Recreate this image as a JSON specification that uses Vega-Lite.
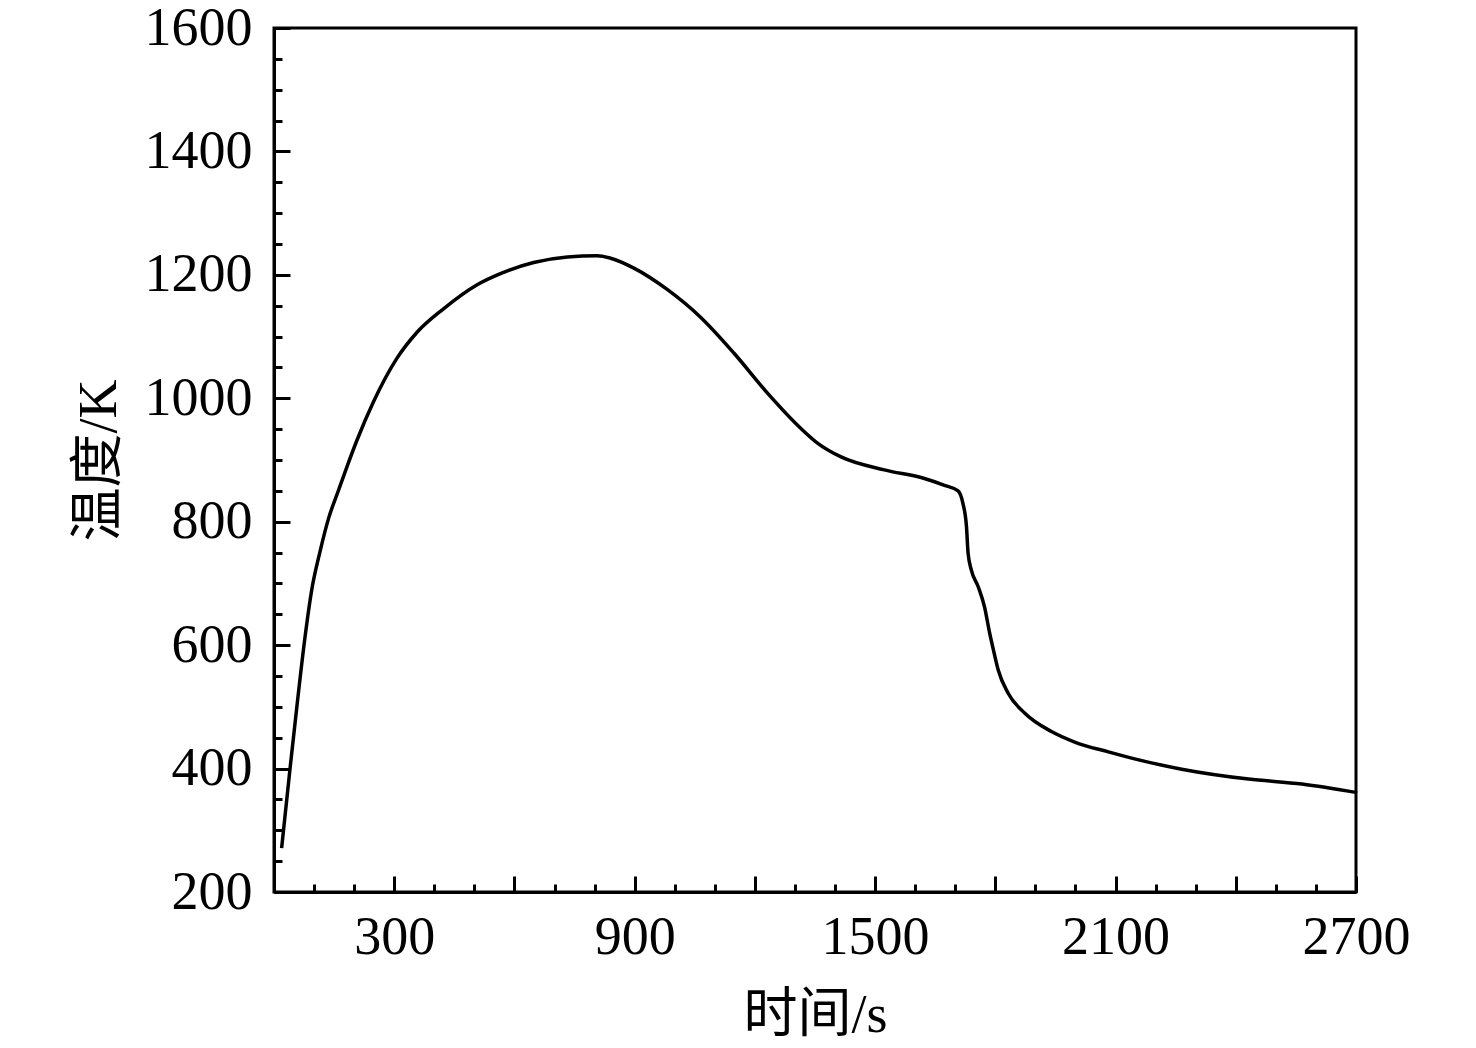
{
  "$schema": "https://vega.github.io/schema/vega-lite/v6.json",
  "width": 1082,
  "height": 864,
  "autosize": {"type": "none"},
  "padding": {"left": 274, "top": 28, "right": 120, "bottom": 156},
  "background": "white",
  "config": {
    "view": {"stroke": "black", "strokeWidth": 3},
    "axis": {
      "domainColor": "black",
      "domainWidth": 3,
      "tickColor": "black",
      "tickWidth": 3,
      "grid": false,
      "labelFont": "Liberation Serif",
      "labelFontSize": 54,
      "labelColor": "black",
      "labelFlush": false,
      "labelOverlap": false,
      "titleFont": "Liberation Serif, Noto Sans CJK SC",
      "titleFontSize": 54,
      "titleFontWeight": "normal",
      "titleColor": "black"
    }
  },
  "data": {
    "values": [
      {"t": 19, "T": 271},
      {"t": 40, "T": 400},
      {"t": 57, "T": 500},
      {"t": 77, "T": 611},
      {"t": 94, "T": 689},
      {"t": 115, "T": 752},
      {"t": 136, "T": 805},
      {"t": 161, "T": 851},
      {"t": 182, "T": 889},
      {"t": 207, "T": 932},
      {"t": 248, "T": 994},
      {"t": 307, "T": 1065},
      {"t": 357, "T": 1107},
      {"t": 423, "T": 1145},
      {"t": 507, "T": 1184},
      {"t": 565, "T": 1202},
      {"t": 648, "T": 1220},
      {"t": 732, "T": 1229},
      {"t": 807, "T": 1231},
      {"t": 840, "T": 1227},
      {"t": 898, "T": 1211},
      {"t": 982, "T": 1176},
      {"t": 1065, "T": 1131},
      {"t": 1148, "T": 1073},
      {"t": 1232, "T": 1008},
      {"t": 1315, "T": 951},
      {"t": 1357, "T": 927},
      {"t": 1415, "T": 905},
      {"t": 1523, "T": 884},
      {"t": 1623, "T": 870},
      {"t": 1673, "T": 859},
      {"t": 1707, "T": 850},
      {"t": 1719, "T": 830},
      {"t": 1728, "T": 792},
      {"t": 1732, "T": 749},
      {"t": 1740, "T": 722},
      {"t": 1757, "T": 695},
      {"t": 1773, "T": 662},
      {"t": 1786, "T": 619},
      {"t": 1796, "T": 590},
      {"t": 1807, "T": 560},
      {"t": 1832, "T": 522},
      {"t": 1873, "T": 490},
      {"t": 1940, "T": 460},
      {"t": 1998, "T": 443},
      {"t": 2082, "T": 427},
      {"t": 2140, "T": 417},
      {"t": 2265, "T": 399},
      {"t": 2432, "T": 383},
      {"t": 2565, "T": 375},
      {"t": 2703, "T": 361}
    ]
  },
  "layer": [
    {
      "mark": {"type": "line", "color": "black", "strokeWidth": 3.5, "interpolate": "monotone"},
      "encoding": {
        "x": {
          "field": "t",
          "type": "quantitative",
          "scale": {"domain": [0, 2700], "nice": false, "zero": false},
          "axis": {
            "orient": "bottom",
            "title": "时间/s",
            "values": [0, 300, 600, 900, 1200, 1500, 1800, 2100, 2400, 2700],
            "labelExpr": "datum.value % 600 === 300 ? datum.label : ''",
            "format": "d",
            "tickSize": -16,
            "labelPadding": 34,
            "titlePadding": 24
          }
        },
        "y": {
          "field": "T",
          "type": "quantitative",
          "scale": {"domain": [200, 1600], "nice": false, "zero": false},
          "axis": {
            "orient": "left",
            "title": "温度/K",
            "values": [200, 400, 600, 800, 1000, 1200, 1400, 1600],
            "format": "d",
            "tickSize": -16,
            "labelPadding": 38,
            "titlePadding": 18
          }
        }
      }
    },
    {
      "mark": {"type": "line", "opacity": 0},
      "encoding": {
        "x": {
          "field": "t",
          "type": "quantitative",
          "axis": {
            "orient": "bottom",
            "title": null,
            "labels": false,
            "domain": false,
            "values": [0, 100, 200, 300, 400, 500, 600, 700, 800, 900, 1000, 1100, 1200, 1300, 1400, 1500, 1600, 1700, 1800, 1900, 2000, 2100, 2200, 2300, 2400, 2500, 2600, 2700],
            "tickSize": -8
          }
        },
        "y": {
          "field": "T",
          "type": "quantitative",
          "axis": {
            "orient": "left",
            "title": null,
            "labels": false,
            "domain": false,
            "values": [200, 250, 300, 350, 400, 450, 500, 550, 600, 650, 700, 750, 800, 850, 900, 950, 1000, 1050, 1100, 1150, 1200, 1250, 1300, 1350, 1400, 1450, 1500, 1550, 1600],
            "tickSize": -8
          }
        }
      }
    }
  ],
  "resolve": {"axis": {"x": "independent", "y": "independent"}}
}
